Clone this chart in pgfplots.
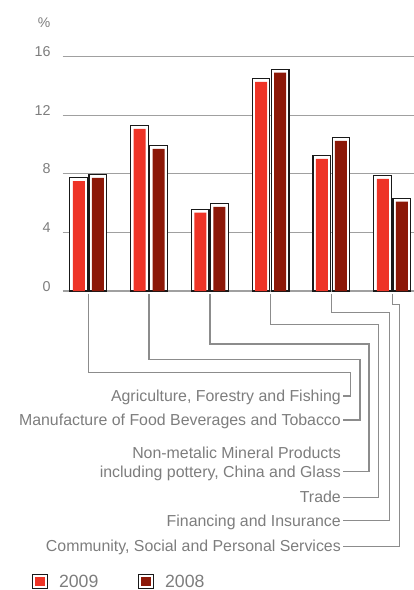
\documentclass[border=0pt]{standalone}
\usepackage{fontspec}
\setmainfont{Liberation Sans}
\usepackage{pgfplots}
\pgfplotsset{compat=1.18}
\definecolor{c09}{RGB}{238,52,39}
\definecolor{c08}{RGB}{140,24,8}
\definecolor{boxc}{RGB}{25,25,25}
\definecolor{gridc}{RGB}{160,160,160}
\definecolor{txtc}{RGB}{125,125,125}
\definecolor{leadc}{RGB}{140,140,140}
\newcommand\lblfont{\fontsize{15.9}{19}\selectfont}
\begin{document}
\begin{tikzpicture}
\path[use as bounding box] (0,0) rectangle (414pt,590pt);
\begin{axis}[
  at={(62.7pt,299pt)}, anchor=south west,
  scale only axis, width=351.3pt, height=234.3pt,
  xmin=-0.421, xmax=5.357, ymin=0, ymax=16,
  clip=false,
  axis line style={draw=none},
  xtick=\empty,
  ytick={0,4,8,12,16},
  major tick length=0pt,
  ymajorgrids, grid style={draw=gridc, line width=1.2pt},
  yticklabel style={anchor=base east, inner sep=0pt, xshift=-12pt, text=txtc, font=\fontsize{14.3}{14.3}\selectfont},
  /pgf/number format/assume math mode=true,
  ylabel={\%},
  ylabel style={rotate=-90, at={(rel axis cs:-0.053,1.144)}, anchor=center, inner sep=0pt, text=txtc, font=\fontsize{14}{14}\selectfont},
  legend columns=2,
  legend cell align=left,
  legend style={at={(rel axis cs:-0.0865,-1.2719)}, anchor=south west, draw=none, fill=none,
    inner sep=0pt, outer sep=0pt, font=\fontsize{17.7}{17.7}\selectfont, text=txtc,
    nodes={inner sep=0pt},
    /tikz/every even column/.append style={column sep=40pt}},
]
% white outline boxes
\addplot[ybar, bar width=17.6pt, bar shift=-9.6pt, fill=white, draw=boxc, line width=1.2pt, forget plot]
  coordinates {(0,7.74) (1,11.30) (2,5.58) (3,14.51) (4,9.25) (5,7.88)};
\addplot[ybar, bar width=17.6pt, bar shift=9.6pt, fill=white, draw=boxc, line width=1.2pt, forget plot]
  coordinates {(0,7.95) (1,9.93) (2,5.97) (3,15.14) (4,10.48) (5,6.33)};
% coloured bars
\addplot[ybar, bar width=12pt, bar shift=-9.5pt, fill=c09, draw=none,
  legend image code/.code={\draw[draw=boxc, fill=white, line width=0.9pt] (0.45pt,-6.8pt) rectangle (14.95pt,7.7pt);
    \fill[c09] (3pt,-4.3pt) rectangle (12.4pt,5.2pt); \path (26.7pt,0pt);}]
  coordinates {(0,7.51) (1,11.07) (2,5.35) (3,14.28) (4,9.02) (5,7.65)};
\addplot[ybar, bar width=12pt, bar shift=9.5pt, fill=c08, draw=none,
  legend image code/.code={\draw[draw=boxc, fill=white, line width=0.9pt] (0.45pt,-6.8pt) rectangle (14.95pt,7.7pt);
    \fill[c08] (3pt,-4.3pt) rectangle (12.4pt,5.2pt); \path (26.7pt,0pt);}]
  coordinates {(0,7.72) (1,9.70) (2,5.74) (3,14.91) (4,10.25) (5,6.10)};
\legend{2009,2008}
\coordinate (g0) at (axis cs:0,0);
\coordinate (g1) at (axis cs:1,0);
\coordinate (g2) at (axis cs:2,0);
\coordinate (g3) at (axis cs:3,0);
\coordinate (g4) at (axis cs:4,0);
\coordinate (g5) at (axis cs:5,0);
\end{axis}
\begin{scope}[draw=leadc, line width=1.3pt]
\draw ([yshift=-3pt]g0) |- (350.7pt,217.3pt) |- (343pt,194pt);
\draw ([yshift=-3pt]g1) |- (360pt,230.7pt) |- (343pt,170pt);
\draw ([yshift=-3pt]g2) |- (369pt,246pt) |- (343pt,118.3pt);
\draw ([yshift=-3pt]g3) |- (378.3pt,265.3pt) |- (343pt,92.7pt);
\draw ([yshift=-3pt]g4) |- (389.3pt,277.7pt) |- (343pt,69.3pt);
\draw ([yshift=-3pt]g5) |- (399.3pt,285.3pt) |- (343pt,43.7pt);
\end{scope}
\begin{scope}[every node/.style={anchor=base east, inner sep=0pt, text=txtc, font=\lblfont}]
\node at (341pt,188.3pt) {Agriculture, Forestry and Fishing};
\node at (341pt,164.3pt) {Manufacture of Food Beverages and Tobacco};
\node at (341pt,131.8pt) {Non-metalic Mineral Products};
\node at (341pt,112.6pt) {including pottery, China and Glass};
\node at (341pt,87pt) {Trade};
\node at (341pt,63.6pt) {Financing and Insurance};
\node at (341pt,38pt) {Community, Social and Personal Services};
\end{scope}
\end{tikzpicture}
\end{document}
